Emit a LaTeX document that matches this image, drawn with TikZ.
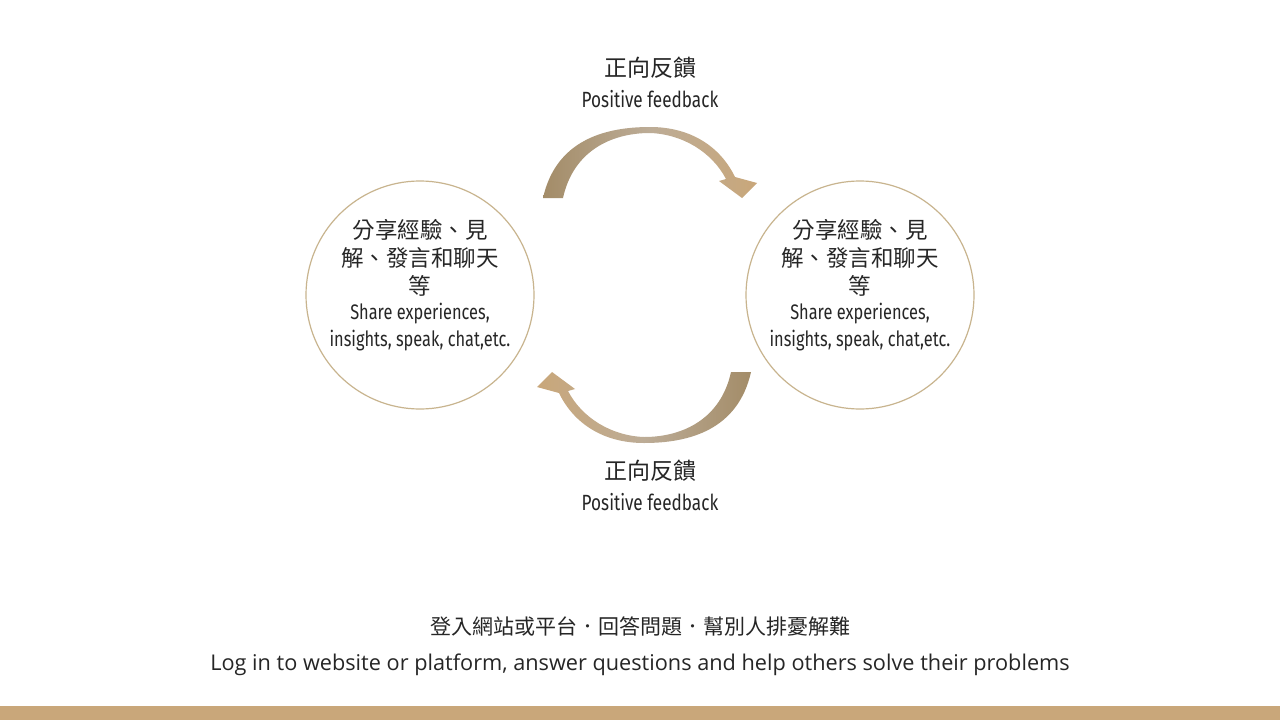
\documentclass[tikz,border=0pt]{standalone}
\usepackage{fontspec}
\setmainfont{Open Sans}
\newfontfamily\cjk{Noto Sans CJK TC}
\newfontfamily\cond[FakeStretch=0.78]{Fira Sans}
\definecolor{tan}{HTML}{C9A77A}
\definecolor{dtan}{HTML}{A38C68}
\definecolor{ring}{HTML}{C8B48E}
\usetikzlibrary{shadings}
\begin{document}
\begin{tikzpicture}[x=1pt,y=-1pt,
  bubble/.style={circle,draw=ring,line width=1.2pt,minimum size=228pt,inner sep=0pt,align=center,text=black!85},
  lbl/.style={align=center,text=black!85}]
\useasboundingbox (0,0) rectangle (1280,720);
\fill[white] (0,0) rectangle (1280,720);
\node[bubble] (L) at (420,295) {};
\node[bubble] (R) at (860,295) {};
\foreach \n in {L,R}{
 \node[lbl,font=\cjk\fontsize{22.5}{28}\selectfont] (\n c) at ([yshift=37pt]\n) {分享經驗、見\\解、發言和聊天\\等};
 \node[lbl,font=\cond\fontsize{21}{27}\selectfont] (\n e) at ([yshift=-32pt]\n) {Share experiences,\\insights, speak, chat,etc.};
}
\node[lbl,font=\cjk\fontsize{23}{26}\selectfont] (tc) at (650,68) {正向反饋};
\node[lbl,font=\cond\fontsize{22}{26}\selectfont] (te) at (650,99) {Positive feedback};
\node[lbl,font=\cjk\fontsize{23}{26}\selectfont] (bc) at (650,471) {正向反饋};
\node[lbl,font=\cond\fontsize{22}{26}\selectfont] (be) at (650,502) {Positive feedback};
\node[lbl,font=\cjk\fontsize{21}{24}\selectfont] (fc) at (640,626) {登入網站或平台．回答問題．幫別人排憂解難};
\node[lbl,font=\fontsize{21.7}{24}\selectfont] (fe) at (640,665) {Log in to website or platform, answer questions and help others solve their problems};
\fill[tan] (0,706) rectangle (1280,720);
\def\arc{(543,198) .. controls (556,140) and (605,127) .. (650,127) .. controls (690,127) and (720,146) .. (735,177) -- (757,183) -- (742,198) -- (719,181) -- (726,179) .. controls (712,152) and (682,134) .. (650,133) .. controls (610,133) and (573,152) .. (563,198) -- cycle}
\shade[left color=dtan,right color=tan,middle color=tan!60!gray!80] \arc;
\begin{scope}[rotate around={180:(647,285)}]
\shade[left color=tan,right color=dtan,middle color=tan!60!gray!80] \arc;
\end{scope}
\end{tikzpicture}
\end{document}
